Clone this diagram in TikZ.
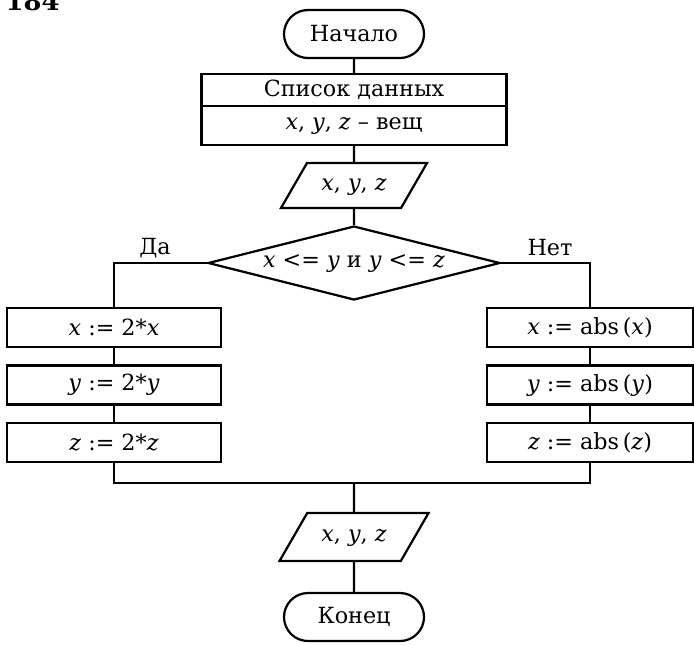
\documentclass[tikz,border=0pt]{standalone}
\usepackage{fontspec}
\setmainfont{DejaVu Serif}
\usetikzlibrary{shapes.geometric,shapes.misc,positioning}

\newcommand\vr[1]{\textit{#1}}

\tikzset{
  blk/.style={draw,line width=0.95pt,rectangle,inner sep=0pt,outer sep=0pt,minimum height=5.85mm},
  term/.style={draw,line width=0.95pt,rounded rectangle,inner sep=0pt,minimum width=21mm,minimum height=7.2mm},
  io/.style={draw,line width=0.95pt,trapezium,trapezium left angle=60,trapezium right angle=120,
    trapezium stretches body,inner xsep=0pt,inner ysep=1.875mm,text height=2.2mm,text depth=0.8mm,
    minimum width=21.9mm},
  cond/.style={draw,line width=0.95pt,diamond,aspect=3.95,inner sep=0pt,minimum width=43.8mm,minimum height=11.1mm},
  wire/.style={line width=0.95pt}
}

\begin{document}
\begin{tikzpicture}[x=0.15mm,y=-0.15mm,font=\fontsize{9.5}{11}\selectfont]
\useasboundingbox (0,0) rectangle (694,644);
\node[anchor=base east,inner sep=0pt,font=\bfseries\fontsize{11}{13}\selectfont] (num) at (60,10) {№ 184};

\node[term] (start) at (354,34) {Начало};
\node[blk,minimum width=45.75mm,minimum height=4.8mm] (listhead) at (354,90) {Список данных};
\node[blk,minimum width=45.75mm,below=0pt of listhead] (listbody) {\vr{x}, \vr{y}, \vr{z} -- вещ};
\node[io] (in1) at (354,185.5) {\vr{x},\ \vr{y},\ \vr{z}};
\node[cond] (test) at (354,263) {\vr{x} <= \vr{y} и \vr{y} <= \vr{z}};
\node (yes) at (155,248) {Да};
\node (no) at (550,248) {Нет};

% ветка "Да"
\node[blk,minimum width=32.1mm] (l1) at (114,327.5) {\vr{x} := 2*\vr{x}};
\node[blk,minimum width=32.1mm] (l2) at (114,385) {\vr{y} := 2*\vr{y}};
\node[blk,minimum width=32.1mm] (l3) at (114,442.5) {\vr{z} := 2*\vr{z}};
% ветка "Нет"
\node[blk,minimum width=30.9mm] (r1) at (590,327.5) {\vr{x} := abs\,(\vr{x})};
\node[blk,minimum width=30.9mm] (r2) at (590,385) {\vr{y} := abs\,(\vr{y})};
\node[blk,minimum width=30.9mm] (r3) at (590,442.5) {\vr{z} := abs\,(\vr{z})};

\coordinate (join) at (354,483);
\node[io,minimum width=22.35mm,inner ysep=2.1mm] (out1) at (354,537) {\vr{x},\ \vr{y},\ \vr{z}};
\node[term] (finish) at (354,617) {Конец};

\draw[wire] (start) -- (listhead);
\draw[wire] (listbody) -- (in1);
\draw[wire] (in1) -- (test);
\draw[wire] (test.west) -| (l1.north);
\draw[wire] (test.east) -| (r1.north);
\draw[wire] (l1) -- (l2);
\draw[wire] (l2) -- (l3);
\draw[wire] (r1) -- (r2);
\draw[wire] (r2) -- (r3);
\draw[wire] (l3.south) |- (join) -| (r3.south);
\draw[wire] (join) -- (out1);
\draw[wire] (out1) -- (finish);
\end{tikzpicture}
\end{document}
